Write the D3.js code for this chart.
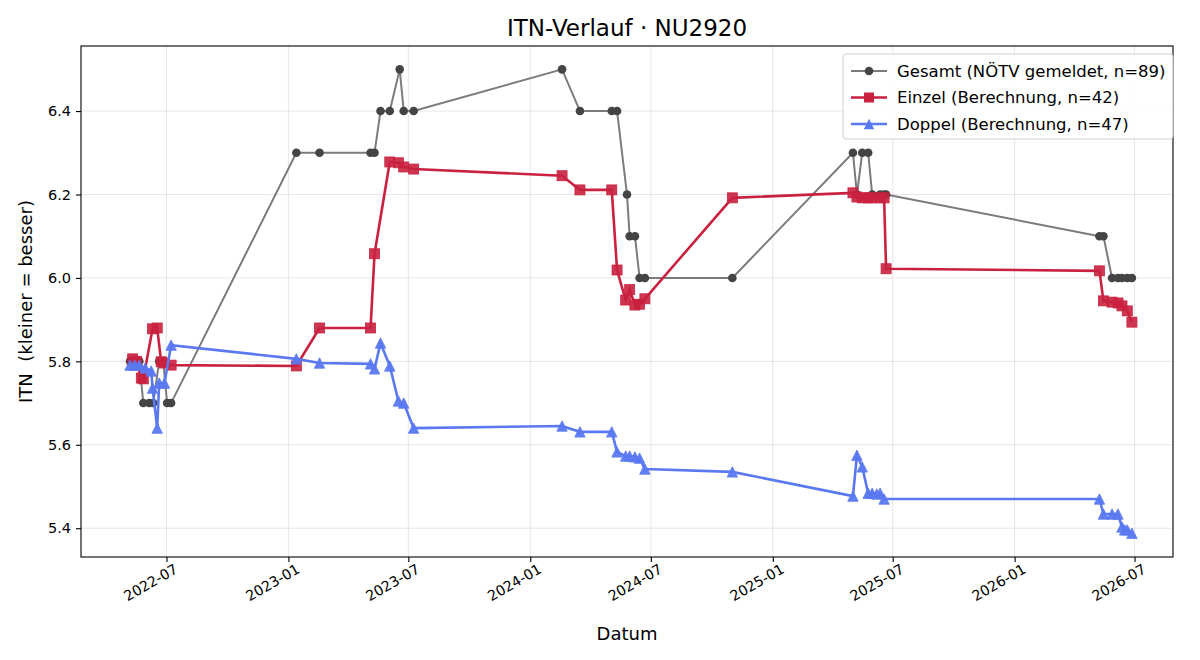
<!DOCTYPE html>
<html>
<head>
<meta charset="utf-8">
<script src="https://cdn.jsdelivr.net/npm/d3@7"></script>
<style>
  body { margin: 0; background: #fff; }
  svg text { font-family: "DejaVu Sans", sans-serif; fill: #000; white-space: pre; }
</style>
</head>
<body>
<svg id="chart" width="1200" height="660"></svg>
<script>
// data
var gesamtDates = ["2022-05-07","2022-05-21","2022-05-27","2022-06-05","2022-06-11","2022-06-20","2022-06-26","2022-07-02","2022-07-08",
  "2023-01-13","2023-02-17","2023-05-05","2023-05-11","2023-05-20","2023-06-03","2023-06-18","2023-06-24","2023-07-09",
  "2024-02-18","2024-03-16","2024-05-03","2024-05-11","2024-05-26","2024-05-30","2024-06-07","2024-06-14","2024-06-22",
  "2024-11-01","2025-05-02","2025-05-08","2025-05-16","2025-05-25","2025-05-31","2025-06-12","2025-06-18","2025-06-21",
  "2026-05-09","2026-05-15","2026-05-28","2026-06-06","2026-06-12","2026-06-20","2026-06-27"];
var gesamtValues = [5.8,5.8,5.7,5.7,5.7,5.8,5.8,5.7,5.7,
  6.3,6.3,6.3,6.3,6.4,6.4,6.5,6.4,6.4,
  6.5,6.4,6.4,6.4,6.2,6.1,6.1,6.0,6.0,
  6.0,6.3,6.2,6.3,6.3,6.2,6.2,6.2,6.2,
  6.1,6.1,6.0,6.0,6.0,6.0,6.0];

var einzelDates = ["2022-05-11","2022-05-17","2022-05-24","2022-05-27","2022-06-10","2022-06-17","2022-06-23","2022-06-28","2022-07-08",
  "2023-01-13","2023-02-17","2023-05-05","2023-05-11","2023-06-03","2023-06-16","2023-06-24","2023-07-09",
  "2024-02-18","2024-03-16","2024-05-03","2024-05-11","2024-05-24","2024-05-30","2024-06-07","2024-06-14","2024-06-22",
  "2024-11-01","2025-05-02","2025-05-08","2025-05-16","2025-05-25","2025-05-31","2025-06-12","2025-06-18","2025-06-21",
  "2026-05-09","2026-05-15","2026-05-28","2026-06-06","2026-06-12","2026-06-20","2026-06-27"];
var einzelValues = [5.806,5.800,5.760,5.758,5.878,5.880,5.799,5.796,5.791,
  5.789,5.880,5.880,6.058,6.278,6.276,6.266,6.261,
  6.245,6.211,6.211,6.019,5.947,5.972,5.935,5.937,5.950,
  6.192,6.204,6.194,6.192,6.192,6.192,6.192,6.192,6.022,
  6.017,5.945,5.942,5.940,5.933,5.921,5.894];

var doppelDates = ["2022-05-07","2022-05-14","2022-05-21","2022-05-30","2022-06-08","2022-06-10","2022-06-17","2022-06-20","2022-06-28","2022-07-08",
  "2023-01-13","2023-02-17","2023-05-05","2023-05-11","2023-05-20","2023-06-03","2023-06-16","2023-06-24","2023-07-09",
  "2024-02-18","2024-03-16","2024-05-03","2024-05-11","2024-05-24","2024-05-30","2024-06-07","2024-06-14","2024-06-22",
  "2024-11-01","2025-05-02","2025-05-08","2025-05-16","2025-05-25","2025-05-31","2025-06-07","2025-06-12","2025-06-18",
  "2026-05-09","2026-05-15","2026-05-28","2026-06-06","2026-06-12","2026-06-16","2026-06-20","2026-06-27"];
var doppelValues = [5.791,5.791,5.791,5.784,5.777,5.736,5.640,5.748,5.748,5.839,
  5.806,5.796,5.794,5.782,5.844,5.789,5.705,5.700,5.640,
  5.645,5.631,5.631,5.583,5.573,5.573,5.571,5.568,5.542,
  5.535,5.477,5.575,5.547,5.484,5.484,5.482,5.484,5.470,
  5.470,5.434,5.434,5.434,5.403,5.396,5.396,5.388];

var yTicks = [5.4, 5.6, 5.8, 6.0, 6.2, 6.4];
var xTickDates = ["2022-07-01","2023-01-01","2023-07-01","2024-01-01","2024-07-01","2025-01-01","2025-07-01","2026-01-01","2026-07-01"];

var margin = { top: 46, right: 27, bottom: 103, left: 81 },
    width = 1200 - margin.left - margin.right,
    height = 660 - margin.top - margin.bottom;

var parse = d3.timeParse("%Y-%m-%d");

var svg = d3.select("#chart");
var g = svg.append("g").attr("transform", "translate(" + margin.left + "," + margin.top + ")");

var x = d3.scaleTime().domain([parse("2022-02-22"), parse("2026-08-28")]).range([0, width]);
var y = d3.scaleLinear().domain([5.331, 6.556]).range([height, 0]);

// grid
g.selectAll(".vgrid").data(xTickDates).enter().append("line")
  .attr("x1", function(d) { return x(parse(d)); }).attr("x2", function(d) { return x(parse(d)); })
  .attr("y1", 0).attr("y2", height)
  .style("stroke", "#b0b0b0").style("stroke-opacity", 0.3).style("stroke-width", 1);
g.selectAll(".hgrid").data(yTicks).enter().append("line")
  .attr("x1", 0).attr("x2", width)
  .attr("y1", function(d) { return y(d); }).attr("y2", function(d) { return y(d); })
  .style("stroke", "#b0b0b0").style("stroke-opacity", 0.3).style("stroke-width", 1);

// axes
var xAxis = g.append("g")
  .attr("transform", "translate(0," + height + ")")
  .call(d3.axisBottom(x).tickValues(xTickDates.map(parse)).tickFormat(d3.timeFormat("%Y-%m")).tickSize(5).tickPadding(4));
xAxis.selectAll("text")
  .style("font-size", "14.2px")
  .attr("text-anchor", "end")
  .attr("dy", "0.7em")
  .attr("dx", "0.2em")
  .attr("transform", "rotate(-30)");

var yAxis = g.append("g")
  .call(d3.axisLeft(y).tickValues(yTicks).tickFormat(d3.format(".1f")).tickSize(5).tickPadding(5));
yAxis.selectAll("text").style("font-size", "14.5px");
g.selectAll(".domain").remove();
g.selectAll(".tick line").style("stroke", "#000").style("stroke-width", 1.1);

// series
function makeData(dates, values) {
  return dates.map(function(d, i) { return { date: parse(d), value: values[i] }; });
}
var line = d3.line().x(function(d) { return x(d.date); }).y(function(d) { return y(d.value); });

var gesamt = makeData(gesamtDates, gesamtValues);
var einzel = makeData(einzelDates, einzelValues);
var doppel = makeData(doppelDates, doppelValues);

// Gesamt
g.append("path").datum(gesamt).attr("d", line)
  .style("fill", "none").style("stroke", "#7b7b7b").style("stroke-width", 2);
g.selectAll(".gpt").data(gesamt).enter().append("circle")
  .attr("cx", function(d) { return x(d.date); })
  .attr("cy", function(d) { return y(d.value); })
  .attr("r", 4.3)
  .style("fill", "#444");

// Einzel
g.append("path").datum(einzel).attr("d", line)
  .style("fill", "none").style("stroke", "#c9213f").style("stroke-width", 2.6);
g.selectAll(".ept").data(einzel).enter().append("rect")
  .attr("x", function(d) { return x(d.date) - 5; })
  .attr("y", function(d) { return y(d.value) - 5; })
  .attr("width", 10).attr("height", 10)
  .style("fill", "#c9213f").style("fill-opacity", 0.9)
  .style("stroke", "#c9213f").style("stroke-width", 0.8);

// Doppel
function tri(cx, cy, s) {
  return "M" + cx + "," + (cy - s) + "L" + (cx - s) + "," + (cy + s) + "L" + (cx + s) + "," + (cy + s) + "Z";
}
g.append("path").datum(doppel).attr("d", line)
  .style("fill", "none").style("stroke", "#5a78f0").style("stroke-width", 2.6);
g.selectAll(".dpt").data(doppel).enter().append("path")
  .attr("d", function(d) { return tri(x(d.date), y(d.value), 5.2); })
  .style("fill", "#5a78f0").style("fill-opacity", 0.95)
  .style("stroke", "#5a78f0").style("stroke-width", 0.8);

// frame
g.append("rect").attr("x", 0).attr("y", 0).attr("width", width).attr("height", height)
  .style("fill", "none").style("stroke", "#000").style("stroke-width", 1.1);

// title + labels
svg.append("text").attr("x", margin.left + width / 2).attr("y", 36)
  .attr("text-anchor", "middle").style("font-size", "23px")
  .text("ITN-Verlauf · NU2920");
svg.append("text").attr("x", margin.left + width / 2).attr("y", 640)
  .attr("text-anchor", "middle").style("font-size", "18px")
  .text("Datum");
svg.append("text")
  .attr("transform", "translate(32," + (margin.top + height / 2) + ") rotate(-90)")
  .attr("text-anchor", "middle").style("font-size", "18px")
  .text("ITN  (kleiner = besser)");

// Legend
var legend = svg.append("g").attr("transform", "translate(843,54)");
legend.append("rect").attr("width", 330).attr("height", 85).attr("rx", 3)
  .style("fill", "#fff").style("fill-opacity", 0.85).style("stroke", "#d0d0d0").style("stroke-width", 1);
var legendItems = [
  { label: "Gesamt (NÖTV gemeldet, n=89)", color: "#7b7b7b", mark: "#444", shape: "circle", w: 2 },
  { label: "Einzel (Berechnung, n=42)", color: "#c9213f", mark: "#c9213f", shape: "square", w: 2.6 },
  { label: "Doppel (Berechnung, n=47)", color: "#5a78f0", mark: "#5a78f0", shape: "triangle", w: 2.6 }
];
legendItems.forEach(function(it, i) {
  var ly = 17 + i * 26.5;
  legend.append("line").attr("x1", 8).attr("x2", 44).attr("y1", ly).attr("y2", ly)
    .style("stroke", it.color).style("stroke-width", it.w);
  if (it.shape == "circle") {
    legend.append("circle").attr("cx", 26).attr("cy", ly).attr("r", 4.3).style("fill", it.mark);
  } else if (it.shape == "square") {
    legend.append("rect").attr("x", 21).attr("y", ly - 5).attr("width", 10).attr("height", 10).style("fill", it.mark);
  } else {
    legend.append("path").attr("d", tri(26, ly, 5.2)).style("fill", it.mark);
  }
  legend.append("text").attr("x", 54).attr("y", ly).attr("dy", "0.35em")
    .style("font-size", "16.5px").text(it.label);
});
</script>
</body>
</html>
